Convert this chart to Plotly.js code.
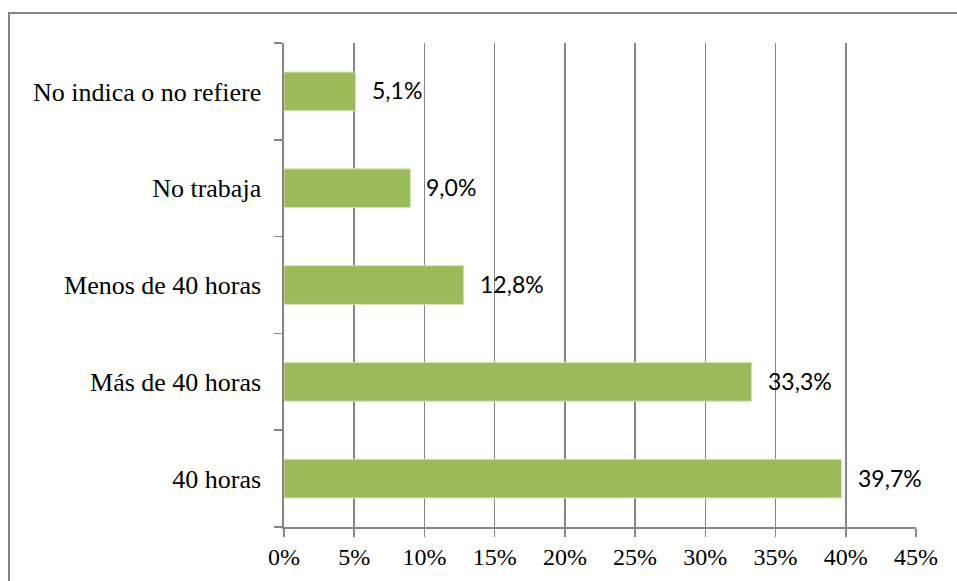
<!DOCTYPE html>
<html>
<head>
<meta charset="utf-8">
<script src="https://cdn.plot.ly/plotly-3.0.1.min.js"></script>
<style>
html,body{margin:0;padding:0;background:#fff;}
#wrap{position:relative;width:957px;height:581px;overflow:hidden;}
#frame{position:absolute;left:8px;top:12px;width:960px;height:600px;border:2px solid #868686;box-sizing:border-box;pointer-events:none;}
#chart{position:absolute;left:0;top:0;width:957px;height:581px;}
</style>
</head>
<body>
<div id="wrap">
<div id="chart"></div>
<div id="frame"></div>
</div>
<script>
const categories = ["40 horas", "Más de 40 horas", "Menos de 40 horas", "No trabaja", "No indica o no refiere"];
const values = [39.7, 33.3, 12.8, 9.0, 5.1];
const xTickValues = [0, 5, 10, 15, 20, 25, 30, 35, 40, 45];
const xTickLabels = ["0%", "5%", "10%", "15%", "20%", "25%", "30%", "35%", "40%", "45%"];

const labels = values.map(v => v.toFixed(1).replace('.', ',') + '%');
const serif = "Liberation Serif, Times New Roman, serif";
const sans = "Lato, Open Sans, sans-serif";

const trace = {
  type: 'bar',
  orientation: 'h',
  x: values,
  y: categories,
  marker: {color: '#9BBB59', line: {color: '#d7e4bd', width: 1}},
  hoverinfo: 'none'
};

const annotations = values.map((v, i) => ({
  x: v, y: categories[i], xref: 'x', yref: 'y',
  text: labels[i], showarrow: false, xanchor: 'left', yanchor: 'middle',
  xshift: 14, yshift: 1,
  font: {family: sans, size: 23, color: '#000'}
}));

const layout = {
  width: 957, height: 581,
  margin: {l: 284, r: 41, t: 43, b: 54, pad: 0},
  paper_bgcolor: 'rgba(0,0,0,0)', plot_bgcolor: '#fff',
  showlegend: false,
  bargap: 0.6,
  xaxis: {
    range: [0, 45], tickvals: xTickValues, ticktext: xTickLabels,
    showgrid: true, gridcolor: '#868686', gridwidth: 1.6,
    showline: true, linecolor: '#868686', linewidth: 1.6,
    ticks: 'outside', ticklen: 8, tickcolor: '#868686', tickwidth: 1.6,
    zeroline: false, fixedrange: true,
    tickfont: {family: serif, size: 24, color: '#000'}
  },
  yaxis: {
    type: 'category', categoryorder: 'array', categoryarray: categories,
    showgrid: false,
    showline: true, linecolor: '#868686', linewidth: 1.6,
    ticks: 'outside', tickson: 'boundaries', ticklen: 8, tickcolor: '#868686', tickwidth: 1.6,
    ticklabelstandoff: 16,
    zeroline: false, fixedrange: true,
    tickfont: {family: serif, size: 26, color: '#000'}
  },
  annotations: annotations
};

Plotly.newPlot('chart', [trace], layout, {displayModeBar: false, staticPlot: true});
</script>
</body>
</html>
